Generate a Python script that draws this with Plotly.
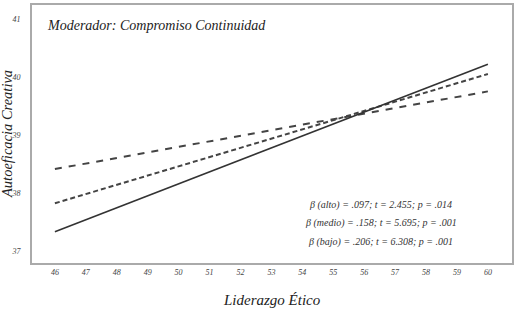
import plotly.graph_objects as go

x_vals = [46, 60]
alto = [38.41, 39.75]
medio = [37.82, 40.05]
bajo = [37.33, 40.22]

x_ticks = list(range(46, 61))
y_ticks = [37, 38, 39, 40, 41]

stats = [
    "β (alto) = .097; t = 2.455; p = .014",
    "β (medio) = .158; t = 5.695; p = .001",
    "β (bajo) = .206; t = 6.308; p = .001",
]
stat_y = [37.79, 37.48, 37.16]

fig = go.Figure()
fig.add_trace(go.Scatter(x=x_vals, y=alto, mode="lines",
                         line=dict(color="#444", width=2, dash="7px,7px")))
fig.add_trace(go.Scatter(x=x_vals, y=medio, mode="lines",
                         line=dict(color="#444", width=2, dash="5px,3px")))
fig.add_trace(go.Scatter(x=x_vals, y=bajo, mode="lines",
                         line=dict(color="#333", width=1.6)))

font = "Liberation Serif, Times New Roman, serif"

fig.add_annotation(x=0.027, y=0.92, xref="paper", yref="paper",
                   text="<i>Moderador: Compromiso Continuidad</i>",
                   showarrow=False, xanchor="left", yanchor="middle",
                   font=dict(family=font, size=14, color="#222"))
for s, yv in zip(stats, stat_y):
    fig.add_annotation(x=56.54, y=yv, text="<i>" + s + "</i>", showarrow=False,
                       xanchor="center", yanchor="middle",
                       font=dict(family=font, size=10, color="#333"))

# axis titles
fig.add_annotation(x=0.5, y=0, xref="paper", yref="paper", yshift=-37,
                   text="<i>Liderazgo Ético</i>", showarrow=False,
                   xanchor="center", yanchor="middle",
                   font=dict(family=font, size=15, color="#222"))
fig.add_annotation(x=0, y=0.5, xref="paper", yref="paper", xshift=-25,
                   text="<i>Autoeficacia Creativa</i>", showarrow=False,
                   textangle=-90, xanchor="center", yanchor="middle",
                   font=dict(family=font, size=14.5, color="#222"))

fig.update_layout(
    width=532, height=320,
    margin=dict(l=32, r=20, t=5, b=57),
    paper_bgcolor="white", plot_bgcolor="white",
    showlegend=False,
    font=dict(family=font),
)
fig.update_xaxes(range=[45.26, 60.78], tickvals=x_ticks,
                 ticktext=["<i>%d</i>" % v for v in x_ticks],
                 showgrid=False, zeroline=False, automargin=False,
                 showline=True, linecolor="#aaa", linewidth=2, mirror=True,
                 ticks="", ticklabelstandoff=0,
                 tickfont=dict(family=font, size=8, color="#444"))
fig.update_yaxes(range=[36.79, 41.24], tickvals=y_ticks,
                 ticktext=["<i>%d</i>" % v for v in y_ticks],
                 showgrid=False, zeroline=False, automargin=False,
                 showline=True, linecolor="#aaa", linewidth=2, mirror=True,
                 ticks="", ticklabelstandoff=8,
                 tickfont=dict(family=font, size=8, color="#444"))

fig.write_html("out.html", config={"displayModeBar": False},
               post_script="document.body.style.margin='0';")
